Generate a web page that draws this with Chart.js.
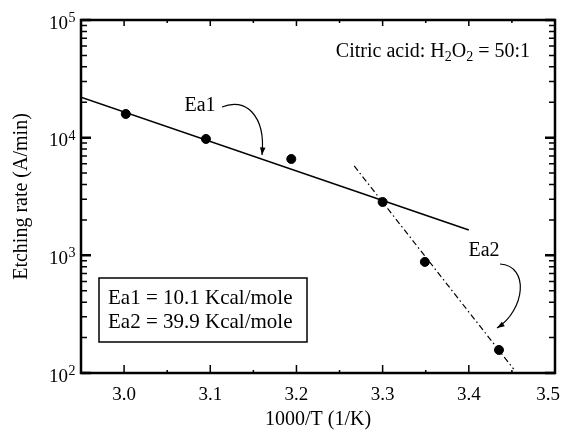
<!DOCTYPE html>
<html>
<head>
<meta charset="utf-8">
<script src="https://cdn.jsdelivr.net/npm/chart.js@4.4.0/dist/chart.umd.min.js"></script>
<style>
  body { margin: 0; background: #fff; }
  #wrap { width: 562px; height: 434px; }
</style>
</head>
<body>
<div id="wrap"><canvas id="chart" width="562" height="434"></canvas></div>
<script>
// ------------ DATA -------------
const invTemp = [3.002, 3.095, 3.194, 3.300, 3.349, 3.435];
const etchRate = [15900, 9750, 6590, 2840, 879, 157];

// fit lines (end points)
const fit1X = [2.95, 3.40];
const fit1Y = [22100, 1645];
const fit2X = [3.267, 3.452];
const fit2Y = [5750, 108];

const xTicks = [3.0, 3.1, 3.2, 3.3, 3.4, 3.5];
const xMinorTicks = [2.95, 3.05, 3.15, 3.25, 3.35, 3.45];
const yDecades = [100, 1000, 10000, 100000];
const yExponents = ["2", "3", "4", "5"];

const FONT = "'Liberation Serif', 'Times New Roman', serif";

// ------------ FRAME / TICKS / ANNOTATIONS -------------
const decorPlugin = {
    id: "decor",
    afterDraw(chart) {
        const ctx = chart.ctx;
        const a = chart.chartArea;
        const xs = chart.scales.x;
        const ys = chart.scales.y;
        ctx.save();
        ctx.strokeStyle = "#000";
        ctx.fillStyle = "#000";

        // x ticks, bottom and top, pointing inward, plus labels
        ctx.lineWidth = 1.5;
        ctx.font = "19px " + FONT;
        ctx.textAlign = "center";
        ctx.textBaseline = "alphabetic";
        xTicks.forEach(v => {
            const px = xs.getPixelForValue(v);
            ctx.beginPath();
            ctx.moveTo(px, a.bottom); ctx.lineTo(px, a.bottom - 8);
            ctx.moveTo(px, a.top); ctx.lineTo(px, a.top + 6);
            ctx.stroke();
            const lbl = v.toFixed(1);
            const w = ctx.measureText(lbl).width;
            const lx = Math.min(px, chart.width - w / 2 - 2);
            ctx.fillText(lbl, lx, a.bottom + 27);
        });
        xMinorTicks.forEach(v => {
            const px = xs.getPixelForValue(v);
            ctx.beginPath();
            ctx.moveTo(px, a.bottom); ctx.lineTo(px, a.bottom - 3);
            ctx.moveTo(px, a.top); ctx.lineTo(px, a.top + 3);
            ctx.stroke();
        });

        // y ticks, left and right
        yDecades.forEach((d, i) => {
            const py = ys.getPixelForValue(d);
            ctx.lineWidth = 2.5;
            ctx.beginPath();
            ctx.moveTo(a.left, py); ctx.lineTo(a.left + 10, py);
            ctx.moveTo(a.right, py); ctx.lineTo(a.right - 10, py);
            ctx.stroke();
            if (i < yDecades.length - 1) {
                ctx.lineWidth = 1.5;
                for (let k = 2; k <= 9; k++) {
                    const pm = ys.getPixelForValue(d * k);
                    ctx.beginPath();
                    ctx.moveTo(a.left, pm); ctx.lineTo(a.left + 6, pm);
                    ctx.moveTo(a.right, pm); ctx.lineTo(a.right - 6, pm);
                    ctx.stroke();
                }
            }
            // 10^n labels
            ctx.font = "19px " + FONT;
            ctx.textAlign = "left";
            const baseW = ctx.measureText("10").width;
            const x0 = a.left - 13 - baseW;
            ctx.fillText("10", x0, py + 8.5);
            ctx.font = "14px " + FONT;
            ctx.fillText(yExponents[i], x0 + baseW + 0.5, py + 2);
        });

        // frame
        ctx.lineWidth = 2.5;
        ctx.strokeRect(a.left, a.top, a.right - a.left, a.bottom - a.top);

        // condition label with subscripts, right aligned
        const parts = [["Citric acid: H", 0], ["2", 1], ["O", 0], ["2", 1], [" = 50:1", 0]];
        ctx.textAlign = "left";
        let total = 0;
        parts.forEach(([s, sub]) => {
            ctx.font = (sub ? "14px " : "20px ") + FONT;
            total += ctx.measureText(s).width;
        });
        let tx = 530 - total, ty = 57;
        parts.forEach(([s, sub]) => {
            ctx.font = (sub ? "14px " : "20px ") + FONT;
            ctx.fillText(s, tx, ty + (sub ? 4 : 0));
            tx += ctx.measureText(s).width;
        });

        // Ea labels
        ctx.font = "20px " + FONT;
        ctx.textAlign = "center";
        ctx.fillText("Ea1", 200, 111);
        ctx.fillText("Ea2", 484, 256);

        // curved arrows
        function arrow(p0, c1, c2, p1) {
            ctx.lineWidth = 1.2;
            ctx.beginPath();
            ctx.moveTo(p0[0], p0[1]);
            ctx.bezierCurveTo(c1[0], c1[1], c2[0], c2[1], p1[0], p1[1]);
            ctx.stroke();
            const ang = Math.atan2(p1[1] - c2[1], p1[0] - c2[0]);
            const L = 8, W = 0.35;
            ctx.beginPath();
            ctx.moveTo(p1[0], p1[1]);
            ctx.lineTo(p1[0] - L * Math.cos(ang - W), p1[1] - L * Math.sin(ang - W));
            ctx.lineTo(p1[0] - L * Math.cos(ang + W), p1[1] - L * Math.sin(ang + W));
            ctx.closePath();
            ctx.fill();
        }
        arrow([222, 107], [245, 97], [266, 115], [262, 155]);
        arrow([500, 264], [530, 266], [525, 310], [497, 328]);

        // legend box
        ctx.lineWidth = 1.5;
        ctx.strokeRect(99, 278, 208, 64);
        ctx.font = "21px " + FONT;
        ctx.textAlign = "left";
        ctx.fillText("Ea1 = 10.1 Kcal/mole", 108, 304);
        ctx.fillText("Ea2 = 39.9 Kcal/mole", 108, 328);

        ctx.restore();
    }
};

// ------------ CHART -------------
const ctx = document.getElementById("chart");
new Chart(ctx, {
    type: "scatter",
    data: {
        datasets: [
            {
                label: "Ea1 fit",
                data: fit1X.map((x, i) => ({ x: x, y: fit1Y[i] })),
                showLine: true,
                borderColor: "#000",
                borderWidth: 1.6,
                pointRadius: 0
            },
            {
                label: "Ea2 fit",
                data: fit2X.map((x, i) => ({ x: x, y: fit2Y[i] })),
                showLine: true,
                borderColor: "#000",
                borderWidth: 1.2,
                borderDash: [6, 3, 1.5, 3],
                pointRadius: 0
            },
            {
                label: "Measured",
                data: invTemp.map((x, i) => ({ x: x, y: etchRate[i] })),
                backgroundColor: "#000",
                borderColor: "#000",
                pointRadius: 4.5
            }
        ]
    },
    options: {
        responsive: false,
        animation: false,
        layout: { padding: { top: 20, right: 7, left: 0, bottom: 0 } },
        plugins: {
            legend: { display: false },
            tooltip: { enabled: false }
        },
        scales: {
            x: {
                type: "linear",
                min: 2.95,
                max: 3.5,
                afterBuildTicks: s => { s.ticks = xTicks.map(v => ({ value: v })); },
                afterFit: s => { s.height = 61; s.paddingLeft = 0; s.paddingRight = 0; },
                grid: { display: false, drawTicks: false },
                border: { display: false },
                ticks: { display: false },
                title: {
                    display: true,
                    text: "1000/T (1/K)",
                    color: "#000",
                    font: { family: FONT, size: 20 },
                    padding: { top: 2, bottom: 2 }
                }
            },
            y: {
                type: "logarithmic",
                min: 100,
                max: 100000,
                afterFit: s => { s.width = 81; s.paddingTop = 0; s.paddingBottom = 0; },
                grid: { display: false, drawTicks: false },
                border: { display: false },
                ticks: { display: false },
                title: {
                    display: true,
                    text: "Etching rate (A/min)",
                    color: "#000",
                    font: { family: FONT, size: 20 },
                    padding: { top: 10, bottom: 4 }
                }
            }
        }
    },
    plugins: [decorPlugin]
});
</script>
</body>
</html>
